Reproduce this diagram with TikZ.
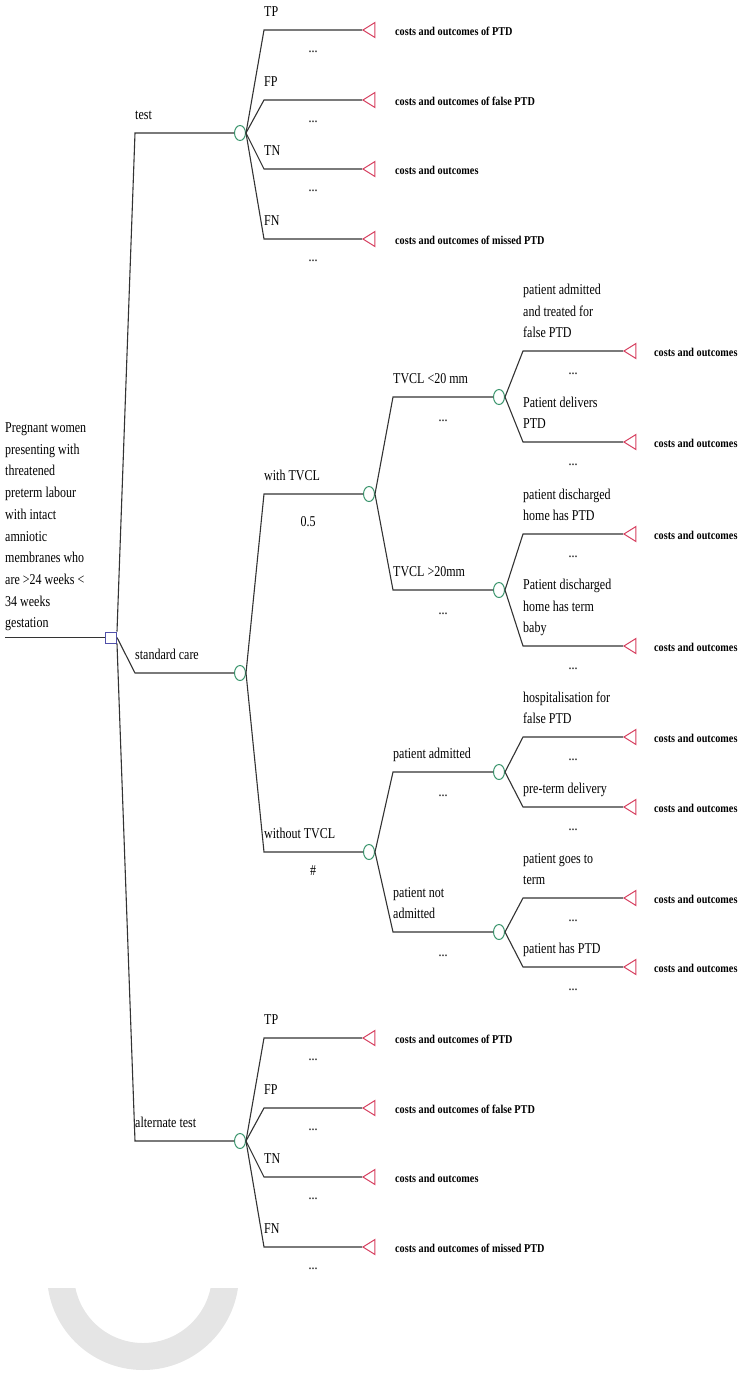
\documentclass[tikz,border=0pt]{standalone}
\usepackage{fontspec}
\setmainfont{Liberation Serif}[FakeStretch=0.8]
\newfontfamily\costfont{Liberation Serif}[FakeStretch=0.85]
\usetikzlibrary{shapes.geometric}

\definecolor{decblue}{RGB}{80,80,170}
\definecolor{chgreen}{RGB}{60,150,110}
\definecolor{termred}{RGB}{214,64,96}

\tikzset{
  branch/.style={line width=1.1pt, black!80},
  decision/.style={rectangle, draw=decblue, line width=1pt, minimum size=11pt, inner sep=0pt, fill=white},
  chance/.style={ellipse, draw=chgreen, line width=1pt, minimum width=11pt, minimum height=15pt, inner sep=0pt, fill=white},
  terminal/.style={isosceles triangle, shape border rotate=180, isosceles triangle apex angle=64,
    draw=termred, line width=1pt, minimum height=12pt, inner sep=0pt, anchor=apex},
  lab/.style={font=\fontsize{15}{21.7}\selectfont, inner sep=0pt, anchor=south west, align=left, text depth=0pt},
  dots/.style={font=\fontsize{15}{15}\selectfont, inner sep=0pt},
  payoff/.style={font=\costfont\bfseries\fontsize{12}{14}\selectfont, inner sep=0pt, anchor=west}
}

\begin{document}
\begin{tikzpicture}[x=1pt,y=-1pt]
  \useasboundingbox (0,0) rectangle (743,1374);

  % grey arc at the bottom
  \begin{scope}
    \clip (0,1288) rectangle (743,1374);
    \fill[gray!20, even odd rule] (143,1274) circle[radius=96] (143,1274) circle[radius=69];
  \end{scope}

  \coordinate (start) at (5,637.5);
  \node[decision] (root) at (111,637.5) {};
  \draw[branch] (start) -- (root.west);
  \node[lab] (rootlab) at (5,628) {Pregnant women\\presenting with\\threatened\\preterm labour\\with intact\\amniotic\\membranes who\\are >24 weeks <\\34 weeks\\gestation};

  % first level
  \coordinate (testk) at (135,133);
  \coordinate (stdk) at (135,673);
  \coordinate (altk) at (135,1141);
  \node[chance] (test) at (240,133) {};
  \node[chance] (std) at (240,673) {};
  \node[chance] (alt) at (240,1141) {};
  \draw[branch] (root.north east) -- (testk) -- (test.west);
  \draw[branch] (root.east) -- (stdk) -- (std.west);
  \draw[branch] (root.south east) -- (altk) -- (alt.west);
  \node[lab] at (135,120) {test};
  \node[lab] at (135,660) {standard care};
  \node[lab] at (135,1128) {alternate test};

  % test and alternate test
  \foreach \tst/\dy in {test/0, alt/1008} {
    \foreach \i/\y/\br/\out in {1/30/TP/{costs and outcomes of PTD}, 2/100/FP/{costs and outcomes of false PTD},
                                3/169/TN/{costs and outcomes}, 4/239/FN/{costs and outcomes of missed PTD}} {
      \coordinate (\tst k\i) at (264,\y+\dy);
      \node[terminal] (\tst t\i) at (362,\y+\dy) {};
      \draw[branch] (\tst.east) -- (\tst k\i) -- (\tst t\i.apex);
      \node[lab] at (264,\y+\dy-13) {\br};
      \node[dots] at (313,\y+\dy+22) {...};
      \node[payoff] at (395,\y+\dy+1) {\out};
    }
  }

  % standard care
  \coordinate (withk) at (264,494);
  \coordinate (wok) at (264,852);
  \node[chance] (with) at (369,494) {};
  \node[chance] (wo) at (369,852) {};
  \draw[branch] (std.east) -- (withk) -- (with.west);
  \draw[branch] (std.east) -- (wok) -- (wo.west);
  \node[lab] at (264,481) {with TVCL};
  \node[dots] at (308,522) {0.5};
  \node[lab] at (264,839) {without TVCL};
  \node[dots] at (313,871) {\#};

  \foreach \pn/\ch/\y/\br in {with/lt/397/{TVCL <20 mm}, with/gt/590/{TVCL >20mm},
                              wo/adm/772/{patient admitted}, wo/nadm/932/{patient not\\admitted}} {
    \coordinate (\ch k) at (393,\y);
    \node[chance] (\ch) at (499,\y) {};
    \draw[branch] (\pn.east) -- (\ch k) -- (\ch.west);
    \node[lab] at (393,\y-13) {\br};
    \node[dots] at (443,\y+24) {...};
  }

  \foreach \pn/\i/\y/\br in {lt/1/351/{patient admitted\\and treated for\\false PTD}, lt/2/442/{Patient delivers\\PTD},
                             gt/1/534/{patient discharged\\home has PTD}, gt/2/646/{Patient discharged\\home has term\\baby},
                             adm/1/737/{hospitalisation for\\false PTD}, adm/2/807/{pre-term delivery},
                             nadm/1/898/{patient goes to\\term}, nadm/2/967/{patient has PTD}} {
    \coordinate (\pn k\i) at (523,\y);
    \node[terminal] (\pn t\i) at (623,\y) {};
    \draw[branch] (\pn.east) -- (\pn k\i) -- (\pn t\i.apex);
    \node[lab] at (523,\y-13) {\br};
    \node[dots] at (573,\y+23) {...};
    \node[payoff] at (654,\y+1) {costs and outcomes};
  }
\end{tikzpicture}
\end{document}
